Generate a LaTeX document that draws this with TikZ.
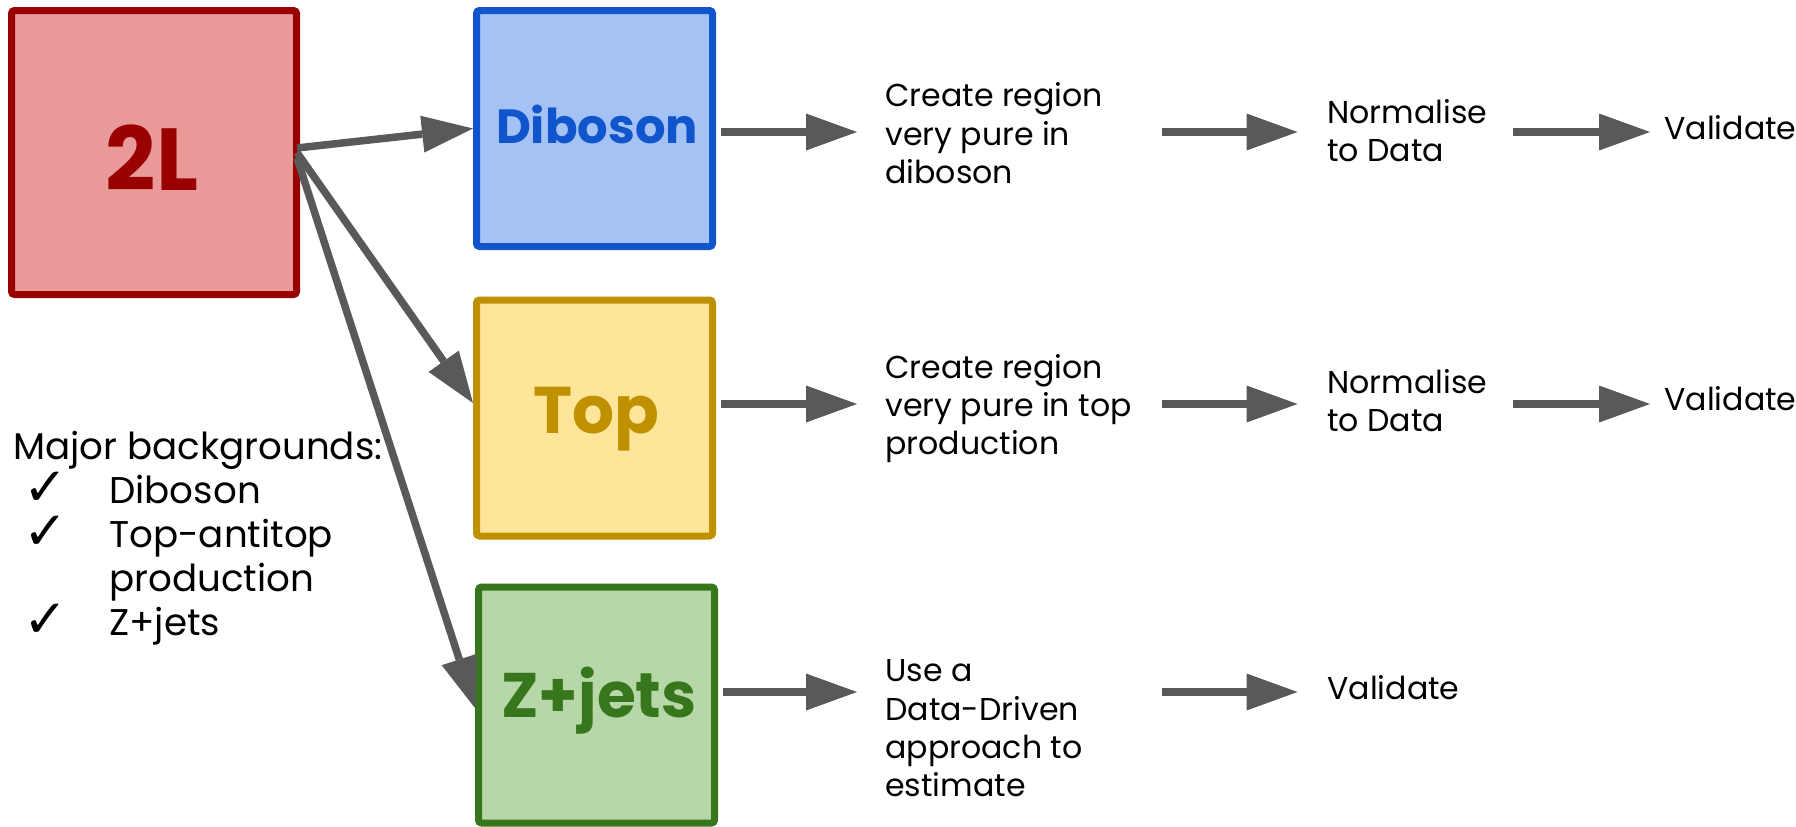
\documentclass[tikz,border=0pt]{standalone}
\usepackage{fontspec}
\setmainfont{Poppins}
\newfontfamily\chkfont{DejaVu Sans}
\usetikzlibrary{arrows.meta}
\definecolor{redfill}{HTML}{EA9999}
\definecolor{reddraw}{HTML}{990000}
\definecolor{bluefill}{HTML}{A4C2F4}
\definecolor{bluedraw}{HTML}{1155CC}
\definecolor{yelfill}{HTML}{FFE599}
\definecolor{yeldraw}{HTML}{BF9000}
\definecolor{grnfill}{HTML}{B6D7A8}
\definecolor{grndraw}{HTML}{38761D}
\definecolor{arrgray}{HTML}{595959}
\newcommand{\mylines}[1]{\begin{tabular}[t]{@{}l@{}}#1\end{tabular}}
\begin{document}
\begin{tikzpicture}[x=0.5pt,y=-0.5pt,
  box/.style={draw, line width=3.5pt, rounded corners=1.5pt, minimum width=118pt, minimum height=118pt, inner sep=0pt},
  boxlab/.style={inner sep=0pt, anchor=base},
  txt/.style={font=\fontsize{15.8}{19.15}\selectfont, inner sep=0pt, anchor=base west},
  ltxt/.style={font=\fontsize{18.6}{22}\selectfont, inner sep=0pt, anchor=base west},
  chk/.style={font=\chkfont\fontsize{26.5}{28}\selectfont, inner sep=0pt, anchor=base west, text height=14pt, text depth=0pt},
  harr/.style={draw=arrgray, line width=4.25pt, -{Triangle[length=25.5pt,width=18.5pt,line width=0pt]}},
  darr/.style={draw=arrgray, line width=3.75pt, -{Triangle[length=25.5pt,width=18.5pt,line width=0pt]}},
]
\useasboundingbox (0,0) rectangle (1796,826);
\fill[white] (0,0) rectangle (1796,826);

% boxes
\node[box, draw=reddraw, fill=redfill, minimum width=142.5pt, minimum height=142pt] (b2L) at (154,152.5) {};
\node[box, draw=bluedraw, fill=bluefill] (bD) at (594.5,128.5) {};
\node[box, draw=yeldraw, fill=yelfill] (bT) at (594.5,418) {};
\node[box, draw=grndraw, fill=grnfill] (bZ) at (596.5,705) {};

% box labels
\node[boxlab, text=reddraw, font=\bfseries\fontsize{44}{48}\selectfont] (l2L) at (152,190) {2L};
\node[boxlab, text=bluedraw, font=\bfseries\fontsize{24}{28}\selectfont] (lD) at (597,143) {Diboson};
\node[boxlab, text=yeldraw, font=\bfseries\fontsize{33}{36}\selectfont] (lT) at (596,433) {Top};
\node[boxlab, text=grndraw, font=\bfseries\fontsize{31.5}{34}\selectfont] (lZ) at (599,717) {Z+jets};

% left list
\node[ltxt] (maj) at (13,459) {Major backgrounds:};
\node[chk] (k1) at (23,505) {✓};
\node[chk] (k2) at (23,549) {✓};
\node[chk] (k3) at (23,637) {✓};
\node[ltxt] (i1) at (109,503) {Diboson};
\node[ltxt] (i2) at (109,547) {\mylines{Top-antitop\\production}};
\node[ltxt] (i3) at (109,635) {Z+jets};

% row texts
\node[txt] (c1) at (885,106.7) {\mylines{Create region\\very pure in\\diboson}};
\node[txt] (n1) at (1327,123.3) {\mylines{Normalise\\to Data}};
\node[txt] (v1) at (1664,139.3) {Validate};

\node[txt] (c2) at (885,378) {\mylines{Create region\\very pure in top\\production}};
\node[txt] (n2) at (1327,393) {\mylines{Normalise\\to Data}};
\node[txt] (v2) at (1664,410) {Validate};

\node[txt] (c3) at (885,681.7) {\mylines{Use a\\Data-Driven\\approach to\\estimate}};
\node[txt] (v3) at (1327,699) {Validate};

% row levels
\coordinate (r1) at (0,132);
\coordinate (r2) at (0,404);
\coordinate (r3) at (0,692);

% diagonal arrows
\draw[darr] ([xshift=-1.5pt,yshift=2.25pt]b2L.east) -- (bD.west);
\draw[darr] ([xshift=-1.5pt]b2L.east) -- ([yshift=7.5pt]bT.west);
\draw[darr] ([xshift=-1.5pt,yshift=-2.75pt]b2L.east) -- ([yshift=-1.5pt]bZ.west);

% horizontal arrows
\draw[harr] ([xshift=2.5pt]bD.east |- r1) -- ([xshift=-14pt]c1.west |- r1);
\draw[harr] ([xshift=138.25pt]c1.west |- r1) -- ([xshift=-14.75pt]n1.west |- r1);
\draw[harr] ([xshift=93pt]n1.west |- r1) -- ([xshift=-7pt]v1.west |- r1);

\draw[harr] ([xshift=2.5pt]bT.east |- r2) -- ([xshift=-14pt]c2.west |- r2);
\draw[harr] ([xshift=138.25pt]c2.west |- r2) -- ([xshift=-14.75pt]n2.west |- r2);
\draw[harr] ([xshift=93pt]n2.west |- r2) -- ([xshift=-7pt]v2.west |- r2);

\draw[harr] ([xshift=2.5pt]bZ.east |- r3) -- ([xshift=-14pt]c3.west |- r3);
\draw[harr] ([xshift=138.25pt]c3.west |- r3) -- ([xshift=-14.75pt]v3.west |- r3);
\end{tikzpicture}
\end{document}
